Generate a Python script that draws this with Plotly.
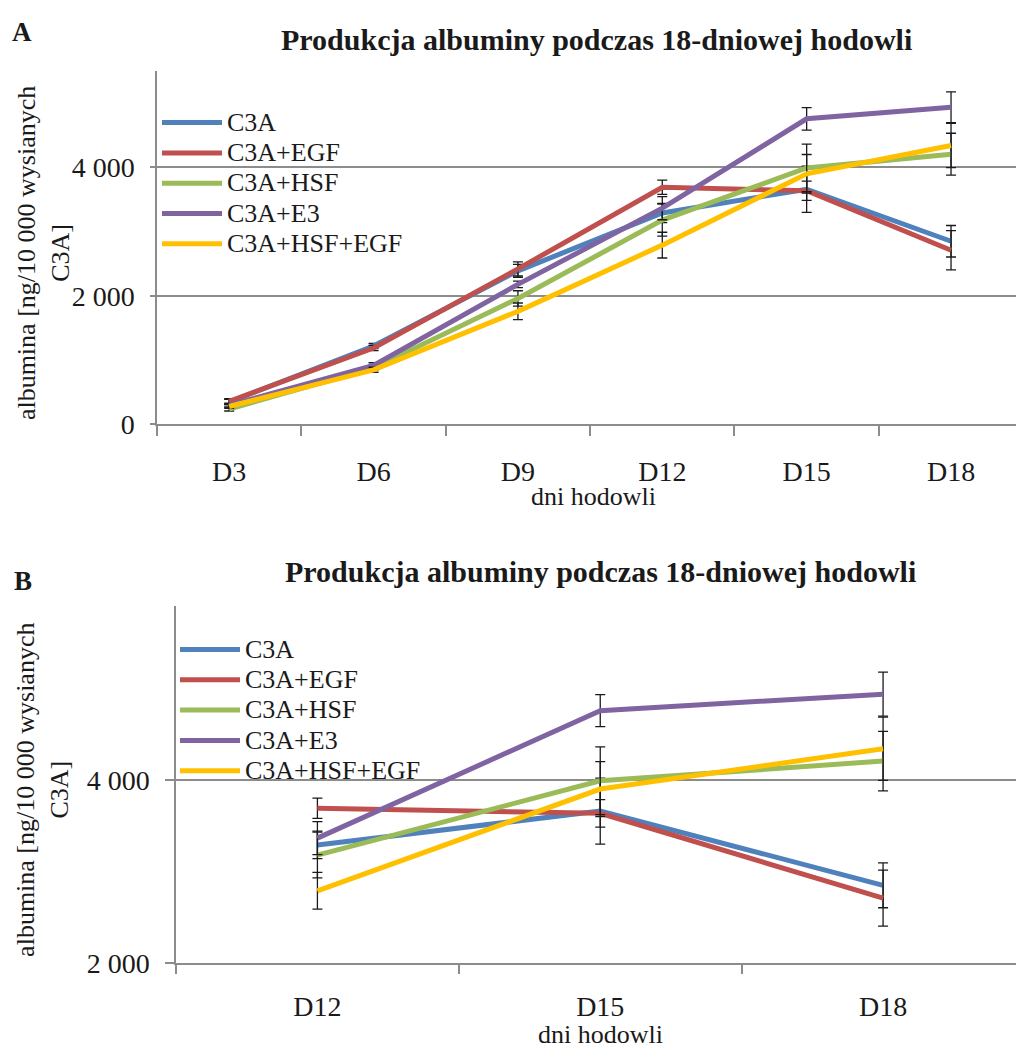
import plotly.graph_objects as go

# Albumin production over an 18-day culture (ng per 10 000 seeded C3A cells)
days = ["D3", "D6", "D9", "D12", "D15", "D18"]
series_names = ["C3A", "C3A+EGF", "C3A+HSF", "C3A+E3", "C3A+HSF+EGF"]

c3a = [350, 1220, 2390, 3290, 3660, 2850]
c3a_egf = [360, 1190, 2420, 3690, 3635, 2710]
c3a_hsf = [240, 880, 1960, 3180, 3990, 4205]
c3a_e3 = [300, 920, 2180, 3365, 4755, 4935]
c3a_hsf_egf = [280, 850, 1760, 2790, 3900, 4340]

err_c3a = [40, 40, 100, 150, 360, 245]
err_c3a_egf = [40, 40, 110, 110, 150, 305]
err_c3a_hsf = [30, 40, 120, 250, 370, 325]
err_c3a_e3 = [30, 40, 50, 180, 175, 240]
err_c3a_hsf_egf = [30, 40, 130, 200, 300, 345]

values = [c3a, c3a_egf, c3a_hsf, c3a_e3, c3a_hsf_egf]
errors = [err_c3a, err_c3a_egf, err_c3a_hsf, err_c3a_e3, err_c3a_hsf_egf]
colors = ["#4F81BD", "#C0504D", "#9BBB59", "#8064A2", "#FFC000"]

title_text = "Produkcja albuminy podczas 18-dniowej hodowli"
y_title = "albumina [ng/10 000 wysianych<br>C3A]"
x_title = "dni hodowli"

W, H = 1016, 1059
FONT = "Liberation Serif"
TXT = "#1a1a1a"
GRID = "#8c8c8c"


def legend_label(name):
    # larger glyphs than the legend's base font keep the rows tightly packed
    return f'<span style="font-size:26px">{name}</span>'


fig = go.Figure()

# panel B starts at day 12
b_start = days.index("D12")

for name, vals, errs, col in zip(series_names, values, errors, colors):
    fig.add_trace(go.Scatter(
        x=days, y=vals, name=legend_label(name), mode="lines",
        line=dict(color=col, width=5),
        error_y=dict(type="data", array=errs, visible=True,
                     color="#1a1a1a", thickness=1.3, width=5),
        xaxis="x", yaxis="y", legend="legend",
    ))
for name, vals, errs, col in zip(series_names, values, errors, colors):
    fig.add_trace(go.Scatter(
        x=days[b_start:], y=vals[b_start:], name=legend_label(name), mode="lines",
        line=dict(color=col, width=5),
        error_y=dict(type="data", array=errs[b_start:], visible=True,
                     color="#1a1a1a", thickness=1.3, width=5),
        xaxis="x2", yaxis="y2", legend="legend2",
    ))


def px_x(v):
    return v / W


def px_y(v):
    return 1 - v / H


tick_font = dict(family=FONT, size=28, color=TXT)

xaxis_common = dict(
    type="category", tickson="boundaries", ticks="outside",
    tickcolor=GRID, tickwidth=1.5, showline=True, linecolor=GRID, linewidth=1.5,
    showgrid=False, zeroline=False, tickfont=tick_font,
)
yaxis_common = dict(
    ticks="outside", tickcolor=GRID, tickwidth=1.5,
    showline=True, linecolor=GRID, linewidth=1.5,
    showgrid=True, gridcolor=GRID, gridwidth=1.5, zeroline=False,
    tickfont=tick_font, tickformat=",d", dtick=2000, ticklabelstandoff=10,
)

legend_common = dict(
    font=dict(family=FONT, size=21, color=TXT), bgcolor="rgba(0,0,0,0)",
    xanchor="left", yanchor="top", itemwidth=60, tracegroupgap=0,
)

fig.update_layout(
    width=W, height=H, margin=dict(l=0, r=0, t=0, b=0),
    paper_bgcolor="white", plot_bgcolor="white",
    separators=", ",
    font=dict(family=FONT, color=TXT),
    xaxis=dict(xaxis_common, domain=[px_x(157), 1], range=[-0.5, 5.45], anchor="y",
               ticklen=10, ticklabelstandoff=21),
    yaxis=dict(yaxis_common, domain=[px_y(431), px_y(72)], range=[0, 5500], anchor="x",
               ticklen=5),
    xaxis2=dict(xaxis_common, domain=[px_x(176), 1], range=[-0.5, 2.47], anchor="y2",
                ticklen=9, ticklabelstandoff=17),
    yaxis2=dict(yaxis_common, domain=[px_y(978), px_y(615)], range=[2000, 5900], anchor="x2",
                ticklen=9),
    legend=dict(legend_common, x=px_x(157), y=px_y(104)),
    legend2=dict(legend_common, x=px_x(175), y=px_y(639)),
    showlegend=True,
)

annotations = [
    dict(text="<b>A</b>", x=px_x(10), y=px_y(32)),
    dict(text="<b>B</b>", x=px_x(12), y=px_y(590)),
]
for a in annotations:
    a.update(xref="paper", yref="paper", xanchor="left", yanchor="middle",
             showarrow=False, font=dict(family=FONT, size=27, color=TXT))

titles = [
    dict(text=f"<b>{title_text}</b>", x=px_x(596), y=px_y(40)),
    dict(text=f"<b>{title_text}</b>", x=px_x(600), y=px_y(580)),
]
for a in titles:
    a.update(xref="paper", yref="paper", xanchor="center", yanchor="middle",
             showarrow=False, font=dict(family=FONT, size=30, color=TXT))

axis_titles = [
    dict(text=x_title, x=px_x(593), y=px_y(504), textangle=0),
    dict(text=x_title, x=px_x(600), y=px_y(1050), textangle=0),
    dict(text=y_title, x=px_x(43), y=px_y(257), textangle=-90),
    dict(text=y_title, x=px_x(43), y=px_y(802), textangle=-90),
]
for a in axis_titles:
    a.update(xref="paper", yref="paper", xanchor="center", yanchor="middle",
             showarrow=False, font=dict(family=FONT, size=26, color=TXT))

fig.update_layout(annotations=annotations + titles + axis_titles)

fig.write_html("out.html")
